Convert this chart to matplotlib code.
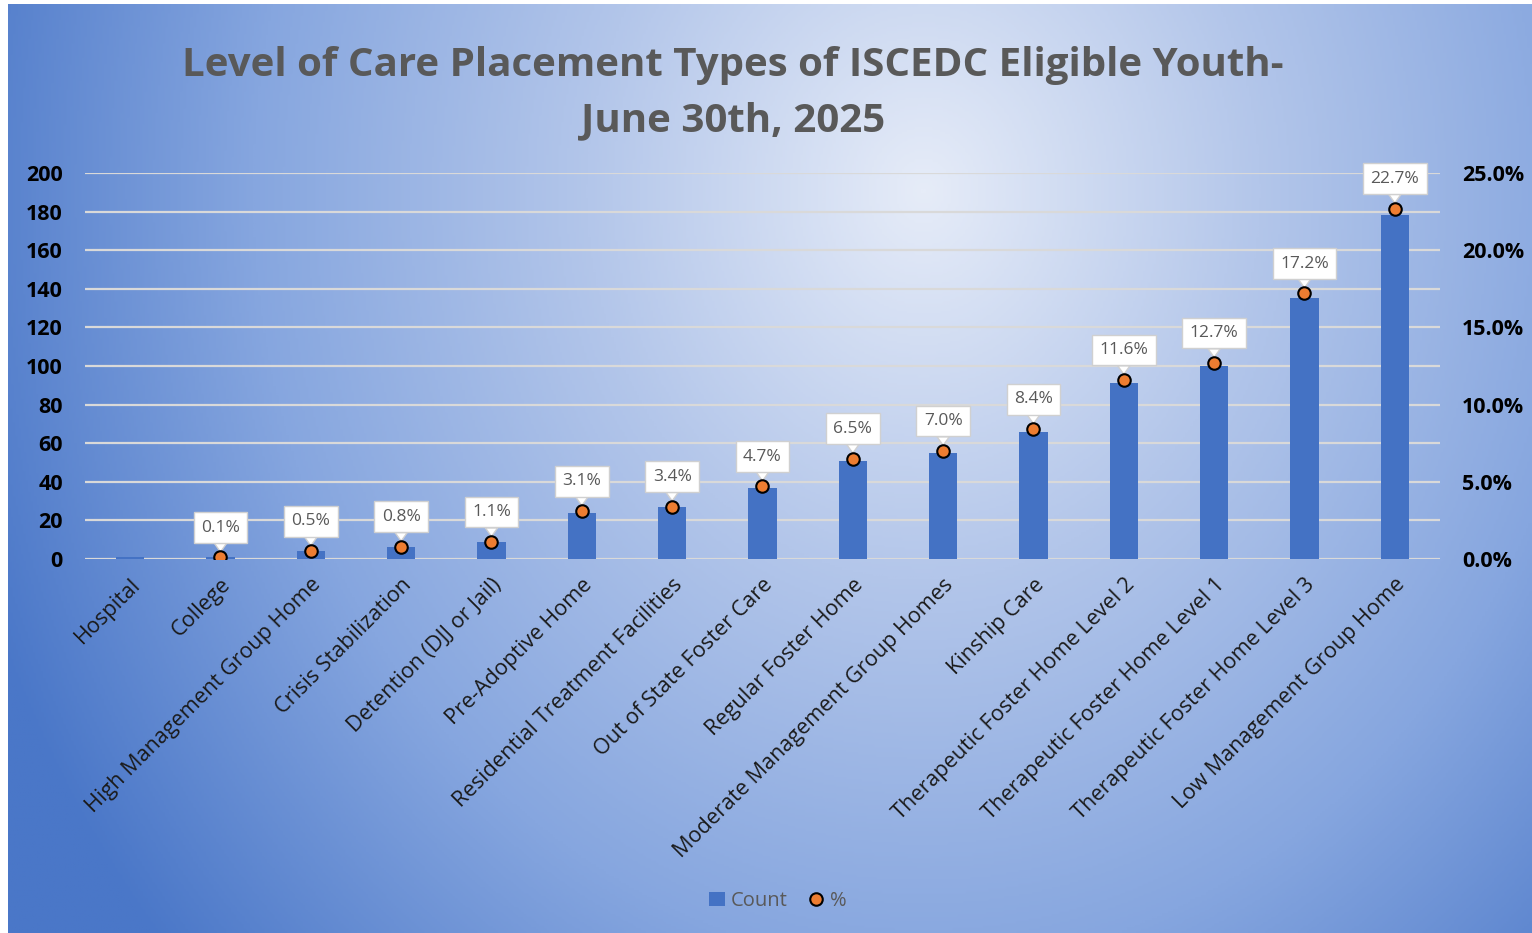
import numpy as np
import matplotlib
matplotlib.use("Agg")
import matplotlib.pyplot as plt
from matplotlib.colors import LinearSegmentedColormap
from matplotlib.lines import Line2D
from matplotlib.patches import Patch

# datos
categorias = ["Hospital", "College", "High Management Group Home", "Crisis Stabilization",
              "Detention (DJJ or Jail)", "Pre-Adoptive Home", "Residential Treatment Facilities",
              "Out of State Foster Care", "Regular Foster Home", "Moderate Management Group Homes",
              "Kinship Care", "Therapeutic Foster Home Level 2", "Therapeutic Foster Home Level 1",
              "Therapeutic Foster Home Level 3", "Low Management Group Home"]
conteo = [1, 1, 4, 6, 9, 24, 27, 37, 51, 55, 66, 91, 100, 135, 178]
porcentaje = [np.nan, 0.1, 0.5, 0.8, 1.1, 3.1, 3.4, 4.7, 6.5, 7.0, 8.4, 11.6, 12.7, 17.2, 22.7]
ticks_izq = [0, 20, 40, 60, 80, 100, 120, 140, 160, 180, 200]
ticks_der = [0, 5, 10, 15, 20, 25]

azul = "#4472C4"
naranja = "#ED7D31"
gris = "#595959"
fuente = "Open Sans"

fig = plt.figure(figsize=(15.32, 9.33), dpi=100)

# fondo con degradado radial
fondo = fig.add_axes([8 / 1532, 0, 1 - 8 / 1532, 1 - 4 / 933])
fondo.axis("off")
W, H = 600, 400
yy, xx = np.mgrid[0:H, 0:W]
cx, cy = 0.6 * W, 0.2 * H
d = np.sqrt(((xx - cx) / (0.66 * W)) ** 2 + ((yy - cy) / (1.25 * H)) ** 2)
d = np.clip(d, 0, 1)
cmap = LinearSegmentedColormap.from_list("g", ["#e6ecf8", "#b3c6ea", "#86a6df", "#4a77c8"])
fondo.imshow(d, cmap=cmap, aspect="auto", extent=[0, 1, 0, 1], origin="upper", vmin=0, vmax=1)

ax = fig.add_axes([85 / 1532, 1 - 559 / 933, 1355 / 1532, 386 / 933])
ax.patch.set_alpha(0)
x = np.arange(len(categorias))
ax.bar(x, conteo, width=0.31, color=azul, zorder=2)
ax.set_xlim(-0.5, len(categorias) - 0.5)
ax.set_ylim(0, 200)
ax.set_yticks(ticks_izq)
ax.grid(axis="y", color="#d9d9d9", linewidth=1.6, zorder=0)
ax.set_axisbelow(True)
for s in ax.spines.values():
    s.set_visible(False)
ax.tick_params(length=0)
ax.tick_params(axis="y", pad=16)
for lab in ax.get_yticklabels():
    lab.set_fontweight("bold")
    lab.set_fontsize(15.5)
    lab.set_fontfamily(fuente)
ax.set_xticks(x)
ax.set_xticklabels(categorias, rotation=45, ha="right", va="top", rotation_mode="anchor",
                   fontsize=15.6, color="#1a1a1a", fontfamily=fuente)
ax.tick_params(axis="x", pad=11)

ax2 = ax.twinx()
ax2.set_ylim(0, 25)
ax2.set_yticks(ticks_der)
ax2.set_yticklabels([f"{t:.1f}%" for t in ticks_der], fontweight="bold", fontsize=15.5, fontfamily=fuente)
ax2.tick_params(length=0, pad=16)
for s in ax2.spines.values():
    s.set_visible(False)
ax2.plot(x, porcentaje, linestyle="none", marker="o", markersize=9, markerfacecolor=naranja,
         markeredgecolor="black", markeredgewidth=1.5, zorder=5)
for xi, p in zip(x, porcentaje):
    if np.isnan(p):
        continue
    ax2.annotate(f"{p:.1f}%", xy=(xi, p), xytext=(0, 21.5), textcoords="offset points",
                 ha="center", va="center", fontsize=12.5, color=gris, fontfamily=fuente,
                 bbox=dict(boxstyle="square,pad=0.42", fc="white", ec="#d0d0d0", lw=1),
                 arrowprops=dict(arrowstyle="wedge,tail_width=0.7,shrink_factor=0.5", fc="white",
                                 ec="#d0d0d0", lw=1, shrinkA=0, shrinkB=4),
                 zorder=4)

fig.text(733 / 1532, 1 - 93 / 933, "Level of Care Placement Types of ISCEDC Eligible Youth-\nJune 30th, 2025",
         ha="center", va="center", fontsize=29, fontweight="bold", color=gris, fontfamily=fuente,
         linespacing=1.55)

manijas = [Patch(facecolor=azul, edgecolor="none"),
           Line2D([], [], linestyle="none", marker="o", markersize=9, markerfacecolor=naranja,
                  markeredgecolor="black", markeredgewidth=1.5)]
fig.legend(manijas, ["Count", "%"], loc="center", bbox_to_anchor=(778 / 1532, 1 - 901 / 933), ncol=2,
           frameon=False, prop={"family": fuente, "size": 14.5}, labelcolor=gris,
           handlelength=0.8, handletextpad=0.3, columnspacing=1.0)

fig.savefig("out.png", dpi=100)
